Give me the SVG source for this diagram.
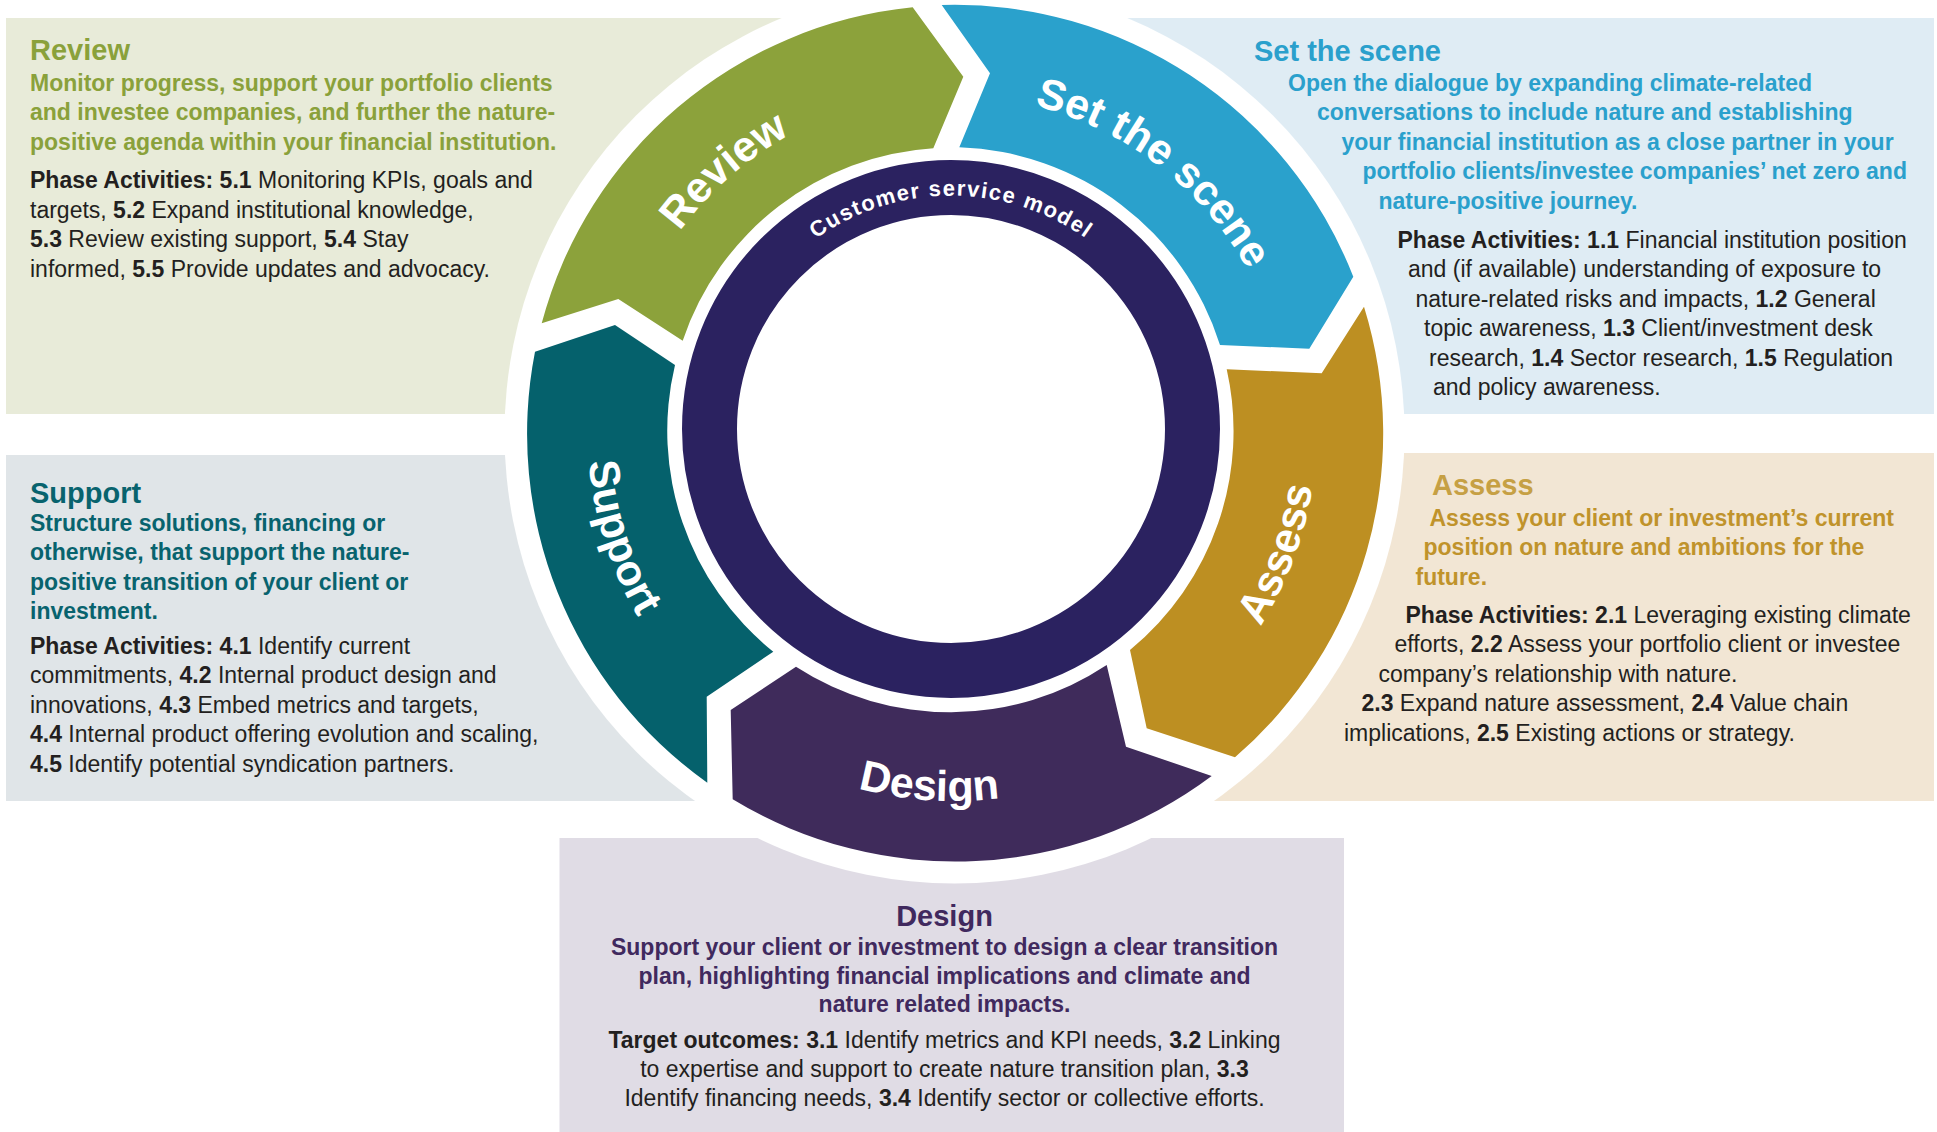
<svg xmlns="http://www.w3.org/2000/svg" width="1937" height="1132" viewBox="0 0 1937 1132">
<defs>
<style>
text{font-family:"Liberation Sans",Arial,Helvetica,sans-serif}
.t{font-size:23px}
.body{fill:#231f20}
.b{font-weight:bold}
.h{font-size:29px;font-weight:bold}
.lbl{font-size:43px;font-weight:bold;fill:#ffffff}
.csm{font-size:22px;font-weight:bold;fill:#ffffff;letter-spacing:1.5px}
</style>
<mask id="cut" maskUnits="userSpaceOnUse" x="0" y="0" width="1937" height="1132">
<rect x="0" y="0" width="1937" height="1132" fill="#fff"/>
<circle cx="954.5" cy="433.5" r="450" fill="#000"/>
</mask>
<path id="pReview" d="M 697.9 655.3 A 339 339 0 0 1 1208.1 208.7"/>
<path id="pSet" d="M 684.4 225.2 A 339 339 0 0 1 1221.6 638.8"/>
<path id="pSupport" d="M 841.4 80.3 A 369 369 0 0 0 1064.6 783.7"/>
<path id="pDesign" d="M 584.8 407.5 A 369 369 0 0 0 1321.2 456.5"/>
<path id="pAssess" d="M 823.8 777.6 A 369 369 0 0 0 1082.2 86.4"/>
<path id="pCsm" d="M 717.5 429 A 233.5 233.5 0 0 1 1184.5 429"/>
</defs>
<rect x="0" y="0" width="1937" height="1132" fill="#ffffff"/>

<g id="phase-review">
<rect x="6" y="18" width="948.5" height="396" fill="#e8ebd9" mask="url(#cut)"/>
<path d="M 541.7 323.3 A 428 428 0 0 1 912.7 7.3 L 963.3 76.7 L 933.3 148.3 A 283 283 0 0 0 682.7 340.7 L 618.3 299 Z" fill="#8ca23b"/>
<text class="lbl"><textPath href="#pReview" startOffset="50%" text-anchor="middle">Review</textPath></text>
<text class="h" x="30" y="60" fill="#8aa13b">Review</text>
<g class="t b" fill="#8aa13b">
<text x="30" y="90.5">Monitor progress, support your portfolio clients</text>
<text x="30" y="120">and investee companies, and further the nature-</text>
<text x="30" y="149.5">positive agenda within your financial institution.</text>
</g>
<g class="t body">
<text x="30" y="188"><tspan class="b">Phase Activities: 5.1</tspan> Monitoring KPIs, goals and</text>
<text x="30" y="217.5">targets, <tspan class="b">5.2</tspan> Expand institutional knowledge,</text>
<text x="30" y="247"><tspan class="b">5.3</tspan> Review existing support, <tspan class="b">5.4</tspan> Stay</text>
<text x="30" y="276.5">informed, <tspan class="b">5.5</tspan> Provide updates and advocacy.</text>
</g>
</g>

<g id="phase-set-the-scene">
<rect x="954.5" y="18" width="979.5" height="396" fill="#dfecf4" mask="url(#cut)"/>
<path d="M 941.7 5 A 428 428 0 0 1 1353.3 276.7 L 1309.3 348.7 L 1220 345 A 283 283 0 0 0 959.3 147.3 L 990 73.3 Z" fill="#2aa1cc"/>
<text class="lbl"><textPath href="#pSet" startOffset="50%" text-anchor="middle">Set the scene</textPath></text>
<text class="h" x="1254" y="61" fill="#2aa0cc">Set the scene</text>
<g class="t b" fill="#2aa0cc">
<text x="1288" y="90.5">Open the dialogue by expanding climate-related</text>
<text x="1317" y="120">conversations to include nature and establishing</text>
<text x="1341.5" y="149.5">your financial institution as a close partner in your</text>
<text x="1362.5" y="179">portfolio clients/investee companies’ net zero and</text>
<text x="1378.5" y="208.5">nature-positive journey.</text>
</g>
<g class="t body">
<text x="1397.5" y="247.5"><tspan class="b">Phase Activities: 1.1</tspan> Financial institution position</text>
<text x="1408" y="277">and (if available) understanding of exposure to</text>
<text x="1415.5" y="306.5">nature-related risks and impacts, <tspan class="b">1.2</tspan> General</text>
<text x="1424" y="336">topic awareness, <tspan class="b">1.3</tspan> Client/investment desk</text>
<text x="1429" y="365.5">research, <tspan class="b">1.4</tspan> Sector research, <tspan class="b">1.5</tspan> Regulation</text>
<text x="1433" y="395">and policy awareness.</text>
</g>
</g>

<g id="phase-assess">
<rect x="954.5" y="453" width="979.5" height="348" fill="#f2e6d4" mask="url(#cut)"/>
<path d="M 1364 306.7 A 428 428 0 0 1 1235 757.3 L 1146.7 728.3 L 1130 650 A 283 283 0 0 0 1226.7 369.3 L 1321.7 373.3 Z" fill="#bd8f22"/>
<text class="lbl"><textPath href="#pAssess" startOffset="50%" text-anchor="middle">Assess</textPath></text>
<text class="h" x="1432" y="495" fill="#c6a044">Assess</text>
<g class="t b" fill="#c0932b">
<text x="1429.5" y="525.5">Assess your client or investment’s current</text>
<text x="1423.5" y="555">position on nature and ambitions for the</text>
<text x="1415.5" y="584.5">future.</text>
</g>
<g class="t body">
<text x="1405.5" y="622.5"><tspan class="b">Phase Activities: 2.1</tspan> Leveraging existing climate</text>
<text x="1394.5" y="652">efforts, <tspan class="b">2.2</tspan> Assess your portfolio client or investee</text>
<text x="1378.5" y="681.5">company’s relationship with nature.</text>
<text x="1361.5" y="711"><tspan class="b">2.3</tspan> Expand nature assessment, <tspan class="b">2.4</tspan> Value chain</text>
<text x="1344" y="740.5">implications, <tspan class="b">2.5</tspan> Existing actions or strategy.</text>
</g>
</g>

<g id="phase-design">
<rect x="559.5" y="838" width="784.5" height="294" fill="#e0dce5" mask="url(#cut)"/>
<path d="M 1211.7 776 A 428 428 0 0 1 732.7 799.3 L 730.7 710 L 796 666.7 A 283 283 0 0 0 1106.7 665 L 1126 746.7 Z" fill="#3f2b5b"/>
<text class="lbl"><textPath href="#pDesign" startOffset="50%" text-anchor="middle">Design</textPath></text>
<text class="h" x="944.5" y="926" text-anchor="middle" fill="#40295e">Design</text>
<g class="t b" fill="#40295e" text-anchor="middle">
<text x="944.5" y="955">Support your client or investment to design a clear transition</text>
<text x="944.5" y="983.5">plan, highlighting financial implications and climate and</text>
<text x="944.5" y="1012">nature related impacts.</text>
</g>
<g class="t body" text-anchor="middle">
<text x="944.5" y="1048"><tspan class="b">Target outcomes: 3.1</tspan> Identify metrics and KPI needs, <tspan class="b">3.2</tspan> Linking</text>
<text x="944.5" y="1077">to expertise and support to create nature transition plan, <tspan class="b">3.3</tspan></text>
<text x="944.5" y="1106">Identify financing needs, <tspan class="b">3.4</tspan> Identify sector or collective efforts.</text>
</g>
</g>

<g id="phase-support">
<rect x="6" y="455" width="948.5" height="346" fill="#e0e5e8" mask="url(#cut)"/>
<path d="M 707.3 782.7 A 428 428 0 0 1 535 351.7 L 615 325 L 675 365 A 283 283 0 0 0 773.3 651.7 L 706.7 696.7 Z" fill="#05616c"/>
<text class="lbl"><textPath href="#pSupport" startOffset="50%" text-anchor="middle">Support</textPath></text>
<text class="h" x="30" y="502.5" fill="#08636e">Support</text>
<g class="t b" fill="#08636e">
<text x="30" y="530.5">Structure solutions, financing or</text>
<text x="30" y="560">otherwise, that support the nature-</text>
<text x="30" y="589.5">positive transition of your client or</text>
<text x="30" y="619">investment.</text>
</g>
<g class="t body">
<text x="30" y="653.5"><tspan class="b">Phase Activities: 4.1</tspan> Identify current</text>
<text x="30" y="683">commitments, <tspan class="b">4.2</tspan> Internal product design and</text>
<text x="30" y="712.5">innovations, <tspan class="b">4.3</tspan> Embed metrics and targets,</text>
<text x="30" y="742"><tspan class="b">4.4</tspan> Internal product offering evolution and scaling,</text>
<text x="30" y="771.5"><tspan class="b">4.5</tspan> Identify potential syndication partners.</text>
</g>
</g>

<g id="customer-service-model">
<circle cx="951" cy="429" r="241.5" fill="none" stroke="#2b2260" stroke-width="55"/>
<text class="csm"><textPath href="#pCsm" startOffset="50%" text-anchor="middle">Customer service model</textPath></text>
</g>

<g id="connectors"></g>
</svg>
